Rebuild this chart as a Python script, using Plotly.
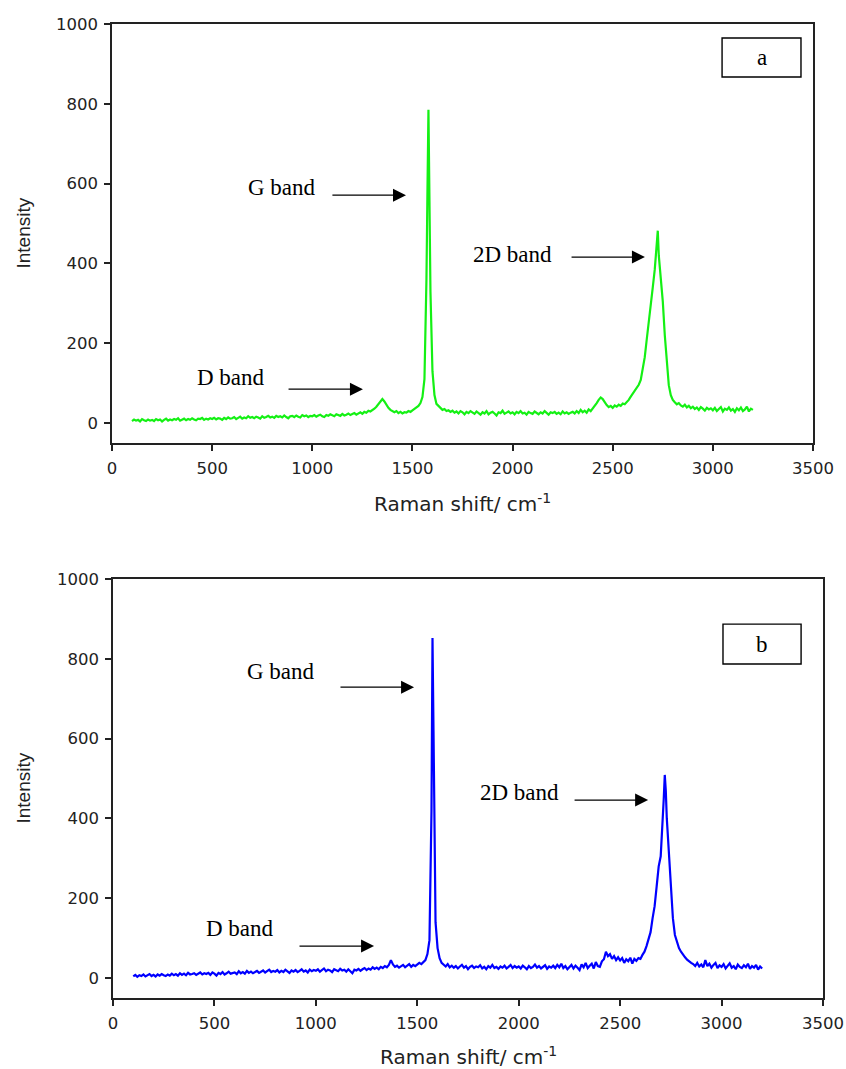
import plotly.graph_objects as go

# ---------------- data ----------------
RAMAN_SHIFT = [
    100, 110, 120, 130, 140, 150, 160, 170, 180, 190,
    200, 210, 220, 230, 240, 250, 260, 270, 280, 290,
    300, 310, 320, 330, 340, 350, 360, 370, 380, 390,
    400, 410, 420, 430, 440, 450, 460, 470, 480, 490,
    500, 510, 520, 530, 540, 550, 560, 570, 580, 590,
    600, 610, 620, 630, 640, 650, 660, 670, 680, 690,
    700, 710, 720, 730, 740, 750, 760, 770, 780, 790,
    800, 810, 820, 830, 840, 850, 860, 870, 880, 890,
    900, 910, 920, 930, 940, 950, 960, 970, 980, 990,
    1000, 1010, 1020, 1030, 1040, 1050, 1060, 1070, 1080, 1090,
    1100, 1110, 1120, 1130, 1140, 1150, 1160, 1170, 1180, 1190,
    1200, 1210, 1220, 1230, 1240, 1250, 1260, 1270, 1280, 1290,
    1300, 1310, 1320, 1330, 1340, 1350, 1360, 1370, 1380, 1390,
    1400, 1410, 1420, 1430, 1440, 1450, 1460, 1470, 1480, 1490,
    1500, 1510, 1520, 1530, 1540, 1550, 1560, 1570, 1575, 1580, 1585, 1590,
    1600, 1610, 1620, 1630, 1640, 1650, 1660, 1670, 1680, 1690,
    1700, 1710, 1720, 1730, 1740, 1750, 1760, 1770, 1780, 1790,
    1800, 1810, 1820, 1830, 1840, 1850, 1860, 1870, 1880, 1890,
    1900, 1910, 1920, 1930, 1940, 1950, 1960, 1970, 1980, 1990,
    2000, 2010, 2020, 2030, 2040, 2050, 2060, 2070, 2080, 2090,
    2100, 2110, 2120, 2130, 2140, 2150, 2160, 2170, 2180, 2190,
    2200, 2210, 2220, 2230, 2240, 2250, 2260, 2270, 2280, 2290,
    2300, 2310, 2320, 2330, 2340, 2350, 2360, 2370, 2380, 2390,
    2400, 2410, 2420, 2430, 2440, 2450, 2460, 2470, 2480, 2490,
    2500, 2510, 2520, 2530, 2540, 2550, 2560, 2570, 2580, 2590,
    2600, 2610, 2620, 2630, 2640, 2650, 2660, 2670, 2680, 2690,
    2700, 2710, 2715, 2720, 2725, 2730, 2740, 2750, 2760, 2770, 2780, 2790,
    2800, 2810, 2820, 2830, 2840, 2850, 2860, 2870, 2880, 2890,
    2900, 2910, 2920, 2930, 2940, 2950, 2960, 2970, 2980, 2990,
    3000, 3010, 3020, 3030, 3040, 3050, 3060, 3070, 3080, 3090,
    3100, 3110, 3120, 3130, 3140, 3150, 3160, 3170, 3180, 3190,
    3200,
]

INTENSITY_A = [
    5, 9, 6, 8, 4, 10, 7, 5, 9, 6,
    8, 5, 10, 7, 9, 4, 8, 11, 6, 9,
    7, 10, 8, 12, 6, 9, 11, 7, 10, 8,
    12, 9, 7, 11, 10, 13, 8, 11, 9, 12,
    10, 13, 9, 12, 11, 8, 13, 10, 14, 11,
    12, 15, 10, 13, 16, 11, 14, 12, 17, 13,
    15, 12, 16, 14, 11, 17, 13, 15, 18, 14,
    16, 13, 18, 15, 17, 14, 19, 15, 12, 17,
    18, 15, 19, 16, 14, 20, 17, 19, 15, 18,
    17, 20, 16, 19, 21, 17, 15, 20, 18, 22,
    19, 17, 22, 20, 18, 23, 19, 21, 24, 20,
    22, 25, 21, 24, 27, 23, 28, 26, 31, 29,
    32, 36, 41, 48, 55, 60, 54, 45, 38, 33,
    29, 27, 30, 25, 28, 24, 27, 26, 30, 28,
    32, 35, 38, 43, 50, 65, 110, 360, 580, 785, 560, 330,
    130, 70, 48, 42, 38, 33, 35, 30, 32, 28,
    31, 26, 29, 24, 30, 27, 22, 28, 25, 30,
    26, 23, 29, 25, 21, 27, 24, 30, 22, 26,
    28, 24, 19, 27, 25, 31, 23, 26, 29, 24,
    27, 22, 28, 25, 30, 24, 26, 21, 28, 25,
    23, 29, 26, 22, 27, 24, 30, 25, 21, 27,
    25, 28, 23, 26, 22, 29, 24, 27, 23, 26,
    28, 24, 30, 25, 33, 27, 31, 26, 34, 30,
    36, 42, 50, 58, 64, 60, 52, 45, 40, 43,
    38, 44, 41, 46, 43, 49, 47, 52, 58, 66,
    74, 83, 88, 96, 108, 135, 165, 210, 250, 295,
    340, 385, 420, 435, 482, 420, 370, 305, 220, 165, 95, 70,
    58, 52, 47, 50, 44, 41, 46, 39, 43, 37,
    41, 35, 39, 33, 40, 36, 31, 38, 34, 37,
    32, 38, 30, 35, 40, 29, 36, 33, 39, 31,
    35, 28, 37, 32, 39, 30, 34, 41, 29, 36,
    33,
]

INTENSITY_B = [
    4, 8, 3, 7, 5, 9, 4, 6, 10, 5,
    8, 4, 9, 6, 10, 7, 5, 9, 6, 11,
    7, 10, 6, 12, 8, 11, 7, 13, 9, 10,
    12, 8, 11, 14, 9, 12, 10, 13, 8, 14,
    11, 6, 13, 10, 15, 9, 12, 16, 11, 13,
    14, 10, 17, 12, 15, 11, 18, 13, 16, 12,
    15, 18, 13, 16, 19, 14, 17, 21, 15, 18,
    16, 20, 14, 18, 15, 21, 17, 13, 19, 16,
    20, 15, 18, 22, 16, 19, 14, 21, 17, 20,
    18, 22, 16, 20, 24, 17, 21, 19, 15, 22,
    20, 17, 23, 19, 21, 16, 22, 18, 12, 21,
    19, 23, 18, 22, 25, 20, 24, 21, 27, 23,
    26, 22, 28, 25, 30, 27, 33, 45, 34, 28,
    31, 26, 29, 33, 27, 31, 35, 28, 33, 30,
    34, 38, 35, 40, 45, 60, 95, 420, 852, 620, 300, 140,
    75, 50, 38, 33, 29, 35, 27, 31, 26, 30,
    24, 29, 33, 26, 30, 22, 28, 31, 25, 29,
    27, 32, 24, 28, 22, 30, 26, 33, 25, 28,
    23, 29, 26, 31, 24, 28, 33, 25, 30, 26,
    29, 24, 31, 27, 22, 30, 25, 28, 34, 26,
    30, 24, 27, 32, 23, 29, 26, 31, 25, 33,
    27, 36, 25, 30, 22, 28, 33, 24, 31, 26,
    20, 34, 27, 38, 25, 31, 36, 24, 40, 30,
    28, 42, 47, 66, 55, 60, 48, 55, 45, 52,
    44, 50, 38, 47, 42, 51, 36, 48, 43, 50,
    48, 58, 66, 80, 95, 115, 150, 180, 230, 280,
    305, 390, 450, 509, 470, 400, 320, 220, 150, 108, 88, 75,
    66, 58, 52, 46, 41, 38, 35, 30, 38, 29,
    34, 27, 45, 30, 36, 26, 33, 38, 25, 32,
    28, 35, 24, 31, 37, 26, 30, 22, 34, 28,
    25, 32, 27, 36, 23, 30, 26, 33, 21, 29,
    24,
]

X_TICKS = [0, 500, 1000, 1500, 2000, 2500, 3000, 3500]
Y_TICKS = [0, 200, 400, 600, 800, 1000]
BAND_LABELS = ["G band", "2D band", "D band"]
PANEL_LABELS = ["a", "b"]
X_TITLE = "Raman shift/ cm<sup>-1</sup>"
Y_TITLE = "Intensity"

assert len(RAMAN_SHIFT) == len(INTENSITY_A) == len(INTENSITY_B)

# ---------------- figure ----------------
W, H = 846, 1069
fig = go.Figure()

fig.add_trace(go.Scatter(x=RAMAN_SHIFT, y=INTENSITY_A, mode="lines",
                         line=dict(color="rgb(20,240,20)", width=2.2),
                         xaxis="x", yaxis="y", showlegend=False))
fig.add_trace(go.Scatter(x=RAMAN_SHIFT, y=INTENSITY_B, mode="lines",
                         line=dict(color="rgb(0,0,255)", width=2.2),
                         xaxis="x2", yaxis="y2", showlegend=False))

tickfont = dict(family="DejaVu Sans", size=16.5, color="#222")
axis_common = dict(showline=True, linecolor="#222", linewidth=1.6, mirror=True,
                   ticks="outside", ticklen=6, tickwidth=1.5, tickcolor="#222",
                   showgrid=False, zeroline=False, tickfont=tickfont,
                   ticklabelstandoff=3)


def px_x(p):
    return p / W


def px_y(p):
    return 1 - p / H


fig.update_layout(
    width=W, height=H, autosize=False,
    margin=dict(l=0, r=0, t=0, b=0, autoexpand=False),
    paper_bgcolor="white", plot_bgcolor="white",
    xaxis=dict(domain=[px_x(112), px_x(813)], range=[0, 3500], tickvals=X_TICKS,
               anchor="y", **axis_common),
    yaxis=dict(domain=[px_y(443), px_y(24)], range=[-50, 1000], tickvals=Y_TICKS,
               anchor="x", **axis_common),
    xaxis2=dict(domain=[px_x(113), px_x(823)], range=[0, 3500], tickvals=X_TICKS,
                anchor="y2", **axis_common),
    yaxis2=dict(domain=[px_y(998), px_y(579)], range=[-50, 1000], tickvals=Y_TICKS,
                anchor="x2", **axis_common),
)

annotations = []
shapes = []

title_font = dict(family="DejaVu Sans", size=20, color="#222")
ytitle_font = dict(family="Liberation Sans, Arial", size=19, color="#222")
serif = dict(family="Liberation Serif, Times New Roman", size=23, color="black")

# axis titles (paper coordinates)
for xc, yc_x, ycy in [((112 + 813) / 2, 503, (24 + 443) / 2),
                      ((113 + 823) / 2, 1056, (579 + 998) / 2)]:
    annotations.append(dict(text=X_TITLE, xref="paper", yref="paper",
                            x=px_x(xc), y=px_y(yc_x), xanchor="center", yanchor="middle",
                            showarrow=False, font=title_font))
    annotations.append(dict(text=Y_TITLE, xref="paper", yref="paper",
                            x=px_x(23), y=px_y(ycy), xanchor="center", yanchor="middle",
                            textangle=-90, showarrow=False, font=ytitle_font))

# band labels & arrows (data coordinates of each panel)
panels = [
    dict(xr="x", yr="y",
         texts=[(849, 591), (2002, 423), (594, 115)],
         arrows=[((1093, 571), (1468, 571)), ((2287, 416), (2661, 416)), ((874, 85), (1253, 85))],
         box=(3046, 867, 3440, 965)),
    dict(xr="x2", yr="y2",
         texts=[(828, 769), (2006, 466), (626, 123)],
         arrows=[((1114, 729), (1484, 729)), ((2268, 446), (2638, 446)), ((912, 80), (1287, 80))],
         box=(3007, 787, 3392, 887)),
]

for pi, p in enumerate(panels):
    for label, (tx, ty) in zip(BAND_LABELS, p["texts"]):
        annotations.append(dict(text=label, xref=p["xr"], yref=p["yr"], x=tx, y=ty,
                                xanchor="center", yanchor="middle", showarrow=False,
                                font=serif))
    for (tail, head) in p["arrows"]:
        annotations.append(dict(text="", xref=p["xr"], yref=p["yr"],
                                x=head[0], y=head[1], ax=tail[0], ay=tail[1],
                                axref=p["xr"], ayref=p["yr"], showarrow=True,
                                arrowhead=2, arrowsize=2.0, arrowwidth=1.3,
                                arrowcolor="black", standoff=0))
    x0, y0, x1, y1 = p["box"]
    shapes.append(dict(type="rect", xref=p["xr"], yref=p["yr"], x0=x0, y0=y0, x1=x1, y1=y1,
                       line=dict(color="black", width=1.4), fillcolor="white"))
    annotations.append(dict(text=PANEL_LABELS[pi], xref=p["xr"], yref=p["yr"],
                            x=(x0 + x1) / 2, y=(y0 + y1) / 2, xanchor="center",
                            yanchor="middle", showarrow=False, font=serif))

fig.update_layout(annotations=annotations, shapes=shapes)

fig.write_html(
    "out.html",
    config={"displayModeBar": False, "responsive": False},
    post_script="document.body.style.margin='0px';document.body.style.overflow='hidden';",
)
